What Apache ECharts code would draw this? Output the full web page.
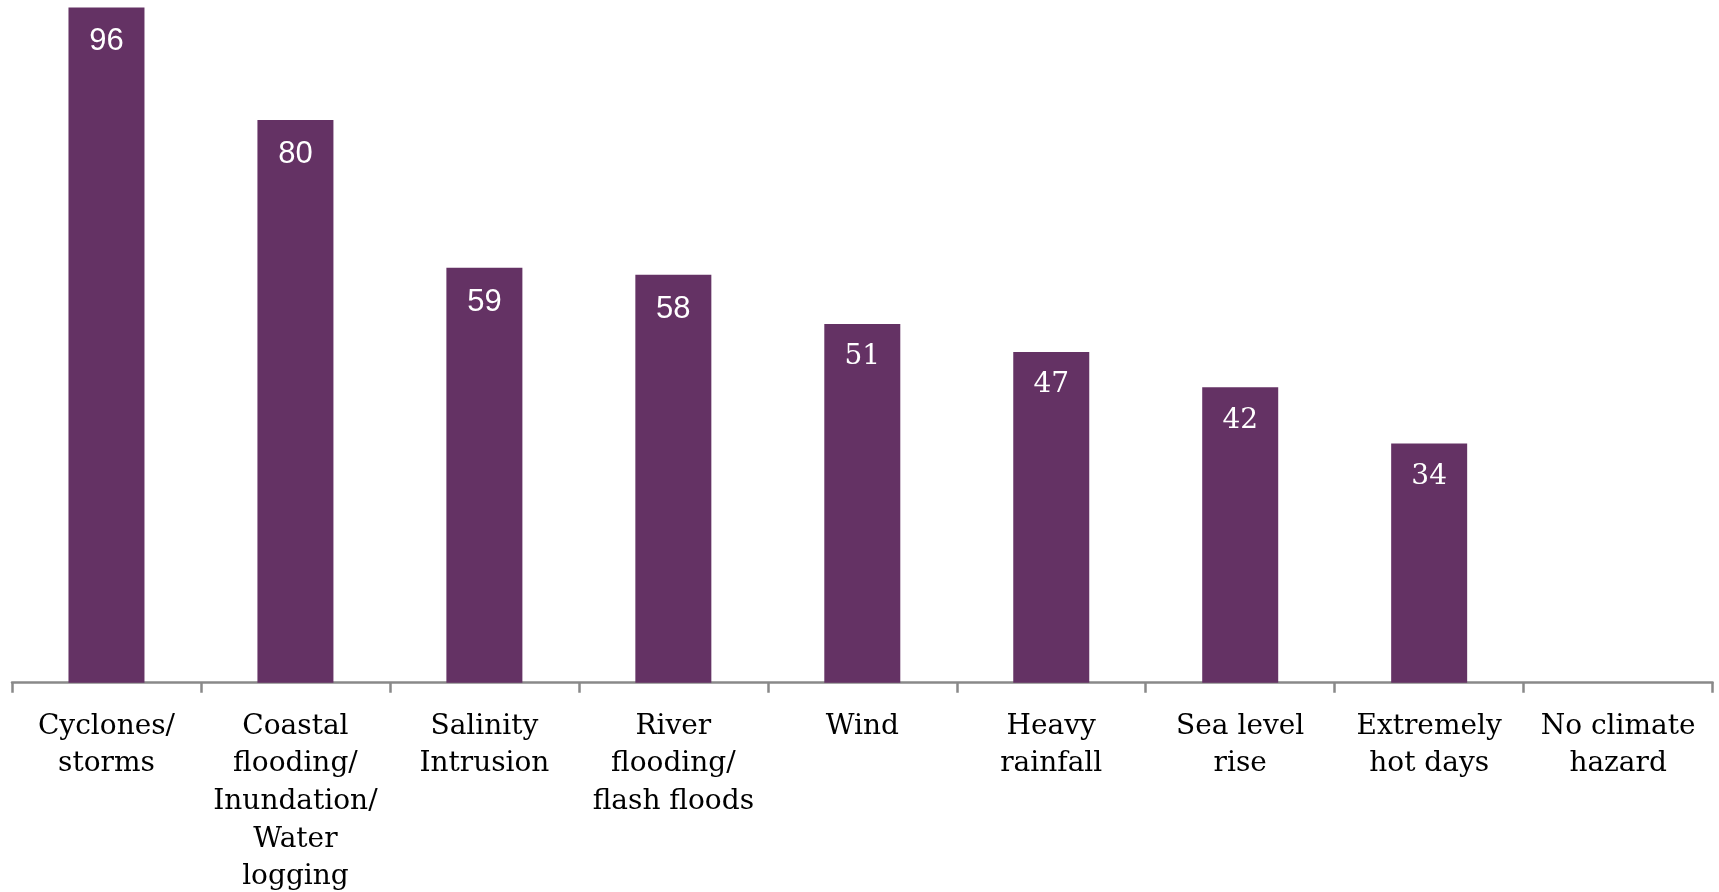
<!DOCTYPE html>
<html>
<head>
<meta charset="utf-8">
<script src="https://cdn.jsdelivr.net/npm/echarts@6/dist/echarts.min.js"></script>
<style>
html,body{margin:0;padding:0;background:#fff;}
#chart{width:1719px;height:892px;}
</style>
</head>
<body>
<div id="chart"></div>
<script>
var categories = [
  "Cyclones/\nstorms",
  "Coastal\nflooding/\nInundation/\nWater\nlogging",
  "Salinity\nIntrusion",
  "River\nflooding/\nflash floods",
  "Wind",
  "Heavy\nrainfall",
  "Sea level\nrise",
  "Extremely\nhot days",
  "No climate\nhazard"
];
var values = [96, 80, 59, 58, 51, 47, 42, 34, 0];

var chart = echarts.init(document.getElementById('chart'));
var seriesData = values.map(function (v, i) {
  var sans = i < 4;
  return {
    value: v,
    label: {
      fontFamily: sans ? 'Liberation Sans' : 'DejaVu Serif',
      fontSize: sans ? 31 : 28
    }
  };
});
chart.setOption({
  animation: false,
  backgroundColor: '#ffffff',
  grid: { left: 12, right: 6.4, top: 7.4, bottom: 209.3, containLabel: false, outerBoundsMode: 'none' },
  xAxis: {
    type: 'category',
    data: categories,
    axisLine: { show: true, lineStyle: { color: '#898989', width: 2.5 } },
    axisTick: { show: true, length: 10, alignWithLabel: false, lineStyle: { color: '#898989', width: 2.5 } },
    axisLabel: {
      interval: 0,
      margin: 25,
      color: '#000000',
      fontFamily: 'DejaVu Serif',
      fontSize: 28,
      lineHeight: 37.6,
      align: 'center'
    }
  },
  yAxis: {
    type: 'value',
    min: 0,
    max: 96,
    show: false,
    splitLine: { show: false }
  },
  series: [{
    type: 'bar',
    data: seriesData,
    barWidth: 76,
    itemStyle: { color: '#643264' },
    label: {
      show: true,
      position: 'insideTop',
      distance: 19,
      color: '#ffffff',
      formatter: function (p) { return p.value ? String(p.value) : ''; }
    }
  }]
});
</script>
</body>
</html>
